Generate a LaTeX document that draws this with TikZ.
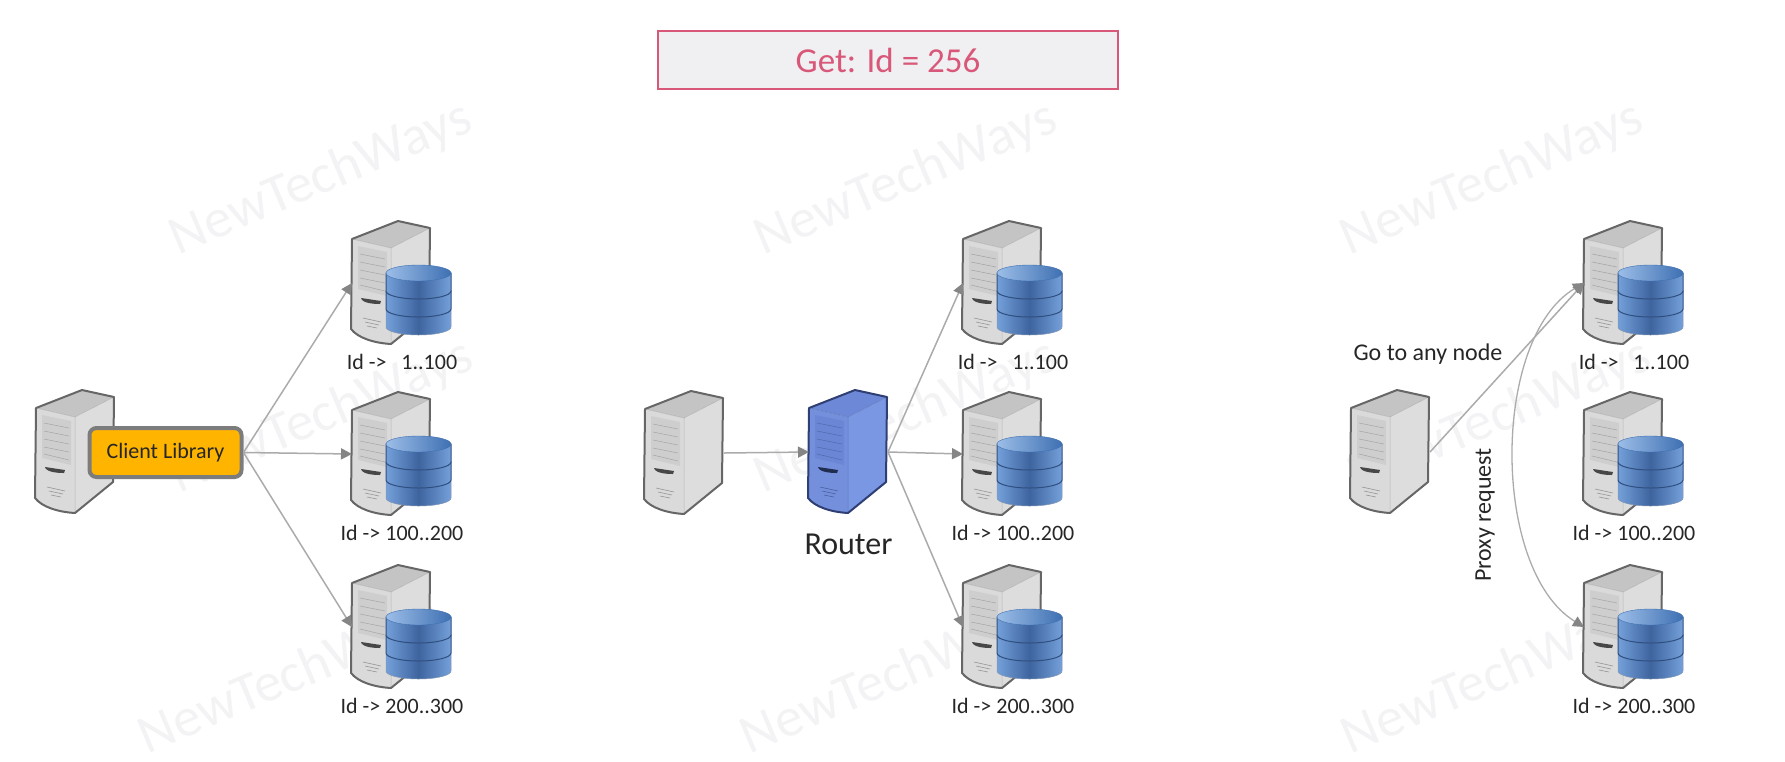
\documentclass[tikz,border=0pt]{standalone}
\usepackage{fontspec}
\setmainfont{Carlito}
\usetikzlibrary{positioning,arrows.meta}
\definecolor{linegray}{HTML}{ABABAB}
\definecolor{headgray}{HTML}{858585}
\definecolor{inkgray}{HTML}{262626}
\definecolor{markgray}{HTML}{F3F3F5}
\definecolor{getred}{HTML}{D9587A}
\definecolor{getfill}{HTML}{F0EFF1}
\definecolor{libfill}{HTML}{FFB400}
\definecolor{libedge}{HTML}{7C7C7C}
\definecolor{dbdark}{HTML}{3E649E}
\definecolor{dblight}{HTML}{74A0DA}
\definecolor{dbtopl}{HTML}{9CBEE8}
\definecolor{dbtopr}{HTML}{3F70B2}
\definecolor{dbline}{HTML}{2F4F80}
\definecolor{towerline}{HTML}{666666}
\definecolor{towertop}{HTML}{C4C4C4}
\definecolor{towerside}{HTML}{DDDDDD}
\definecolor{towerfront}{HTML}{DADADA}
\definecolor{towervent}{HTML}{CECECE}
\definecolor{routerline}{HTML}{2F3F73}
\definecolor{routertop}{HTML}{6C88D6}
\definecolor{routerside}{HTML}{7A97E4}
\definecolor{routerfront}{HTML}{7490DC}
\definecolor{routervent}{HTML}{6A86D4}
\tikzset{
    pics/towerbody/.style n args={5}{code={
        \fill[#2, line join=round] (0,18) -- (46,0) -- (78,7) -- (39,27) -- cycle;
        \fill[#3] (39,27) -- (78,7) -- (77,92) -- (39,123) -- cycle;
        \fill[#4] (0,18) -- (39,27) -- (39,123) .. controls (22,122) and (6,117) .. (-1,108) -- cycle;
        \draw[#1, line width=2pt, line join=round] (0,18) -- (46,0) -- (78,7) -- (77,92) -- (39,123) .. controls (22,122) and (6,117) .. (-1,108) -- cycle;
        \draw[#1, line width=0.5pt, opacity=0.3] (0,18) -- (39,27) -- (78,7) (39,27) -- (39,123);
        \fill[#5] (6,25) -- (35,31) -- (35,75) -- (6,68) -- cycle;
        \draw[#1, line width=0.5pt, opacity=0.4] (8,33) -- (33,38) (8,41) -- (33,46) (8,49) -- (33,54) (8,57) -- (33,62) (8,64) -- (33,70);
        \fill[#1!70!black] (9,77) .. controls (16,78) and (22,79) .. (29,80) -- (28,83) .. controls (20,83) and (13,82) .. (10,79) -- cycle;
        \draw[#1, line width=0.6pt, opacity=0.6] (11,97) -- (29,101) (13,101) -- (27,104) (15,105) -- (25,107);
    }},
    pics/dbstack/.style={code={
        \path[left color=dblight, right color=dblight, middle color=dbdark, draw=dbline!60, line width=0.5pt] (34,88) -- (34,106) arc[start angle=180, end angle=360, x radius=32.5pt, y radius=8pt] -- (99,88) -- cycle;
        \path[left color=dblight, right color=dblight, middle color=dbdark, draw=dbline, line width=1pt] (34,70) -- (34,88) arc[start angle=180, end angle=360, x radius=32.5pt, y radius=8pt] -- (99,70) -- cycle;
        \path[left color=dblight, right color=dblight, middle color=dbdark, draw=dbline, line width=1pt] (34,52) -- (34,70) arc[start angle=180, end angle=360, x radius=32.5pt, y radius=8pt] -- (99,52) -- cycle;
        \path[left color=dbtopl, right color=dbtopr, draw=dbtopr, line width=0.4pt] (66.5,52) ellipse[x radius=32.5pt, y radius=8pt];
    }},
    pics/plaintower/.style={code={
        \node[hitbox, minimum width=79pt] (-box) at (0,0) {};
        \pic at (0,0) {towerbody={towerline}{towertop}{towerside}{towerfront}{towervent}};
    }},
    pics/routertower/.style={code={
        \node[hitbox, minimum width=79pt] (-box) at (0,0) {};
        \pic at (0,0) {towerbody={routerline}{routertop}{routerside}{routerfront}{routervent}};
    }},
    pics/dbserver/.style={code={
        \node[hitbox, minimum width=100pt] (-box) at (0,0) {};
        \pic at (0,0) {towerbody={towerline}{towertop}{towerside}{towerfront}{towervent}};
        \pic at (0,0) {dbstack};
    }},
}
\begin{document}
\begin{tikzpicture}[x=1pt,y=-1pt,node distance=9pt,
        hitbox/.style={anchor=north west,minimum height=124pt,inner sep=0pt,outer sep=0pt},
        arrowlink/.style={-{Triangle[length=11pt,width=11pt,color=headgray]},linegray,line width=1.5pt},
        bothlink/.style={{Triangle[length=11pt,width=11pt,color=headgray]}-{Triangle[length=11pt,width=11pt,color=headgray]},linegray,line width=1.3pt},
        idlabel/.style={text=inkgray,font=\fontsize{22}{24}\selectfont,inner sep=0pt},
        sidelabel/.style={text=inkgray,font=\fontsize{24}{26}\selectfont,inner sep=0pt},
        wmark/.style={text=markgray,rotate=23,font=\fontsize{55}{60}\selectfont}]

                \useasboundingbox (0,0) rectangle (1785,761);

                \node[wmark] (m1) at (321,179) {NewTechWays};
                \node[wmark] (m2) at (906,179) {NewTechWays};
                \node[wmark] (m3) at (1492,179) {NewTechWays};
                \node[wmark] (m4) at (322,417) {NewTechWays};
                \node[wmark] (m5) at (906,417) {NewTechWays};
                \node[wmark] (m6) at (1500,417) {NewTechWays};
                \node[wmark] (m7) at (290,678) {NewTechWays};
                \node[wmark] (m8) at (892,678) {NewTechWays};
                \node[wmark] (m9) at (1493,678) {NewTechWays};

                \node[draw=getred, fill=getfill, line width=2.6pt, minimum width=460pt, minimum height=58pt, text=getred, font=\fontsize{35}{38}\selectfont] (get) at (888,60) {Get: Id = 256};

                \pic (c1) at (36,390) {plaintower};
                \pic (c2) at (645,391) {plaintower};
                \pic (c3) at (1351,390) {plaintower};
                \pic (r) at (809,390) {routertower};

                \node[draw=libedge, fill=libfill, rounded corners=7pt, line width=4pt, minimum width=152pt, minimum height=49pt, text=inkgray, font=\fontsize{22}{24}\selectfont] (lib) at (165.5,452.5) {Client Library};

                \pic (a1) at (352,221) {dbserver};
                \pic (a2) at (352,392) {dbserver};
                \pic (a3) at (352,565) {dbserver};
                \pic (b1) at (963,221) {dbserver};
                \pic (b2) at (963,392) {dbserver};
                \pic (b3) at (963,565) {dbserver};
                \pic (d1) at (1584,221) {dbserver};
                \pic (d2) at (1584,392) {dbserver};
                \pic (d3) at (1584,565) {dbserver};

                \node[idlabel] (a1l) [below=of a1-box] {Id ->\ \ \ 1..100};
                \node[idlabel] (a2l) [below=of a2-box] {Id -> 100..200};
                \node[idlabel] (a3l) [below=of a3-box] {Id -> 200..300};
                \node[idlabel] (b1l) [below=of b1-box] {Id ->\ \ \ 1..100};
                \node[idlabel] (b2l) [below=of b2-box] {Id -> 100..200};
                \node[idlabel] (b3l) [below=of b3-box] {Id -> 200..300};
                \node[idlabel] (d1l) [below=of d1-box] {Id ->\ \ \ 1..100};
                \node[idlabel] (d2l) [below=of d2-box] {Id -> 100..200};
                \node[idlabel] (d3l) [below=of d3-box] {Id -> 200..300};

                \node[text=inkgray, font=\fontsize{32}{34}\selectfont, inner sep=0pt] (rl) [below=20pt of r-box] {Router};
                \node[sidelabel] (goto) at (1428,354) {Go to any node};
                \node[sidelabel, rotate=90] (proxy) at (1485,515) {Proxy request};

                \draw[arrowlink] (lib.east) to (a1-box.west);
                \draw[arrowlink] (lib.east) to (a2-box.west);
                \draw[arrowlink] (lib.east) to (a3-box.west);

                \draw[arrowlink] (c2-box.east) to (r-box.west);
                \draw[arrowlink] (r-box.east) to (b1-box.west);
                \draw[arrowlink] (r-box.east) to (b2-box.west);
                \draw[arrowlink] (r-box.east) to (b3-box.west);

                \draw[arrowlink] (c3-box.east) to (d1-box.west);
                \draw[bothlink] (d1-box.west) .. controls +(-93,55) and +(-93,-57) .. (d3-box.west);
                ;
            \end{tikzpicture}
\end{document}
